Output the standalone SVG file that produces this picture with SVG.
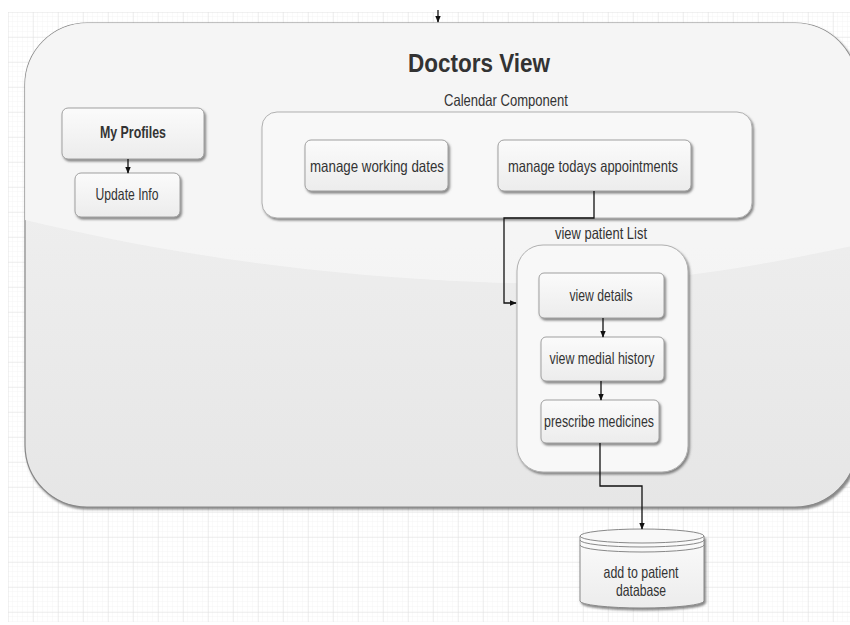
<svg xmlns="http://www.w3.org/2000/svg" width="850" height="625" viewBox="0 0 850 625">
<style>
text{font-family:"Liberation Sans",Arial,sans-serif;fill:#333;}
.t{font-size:16.5px;text-anchor:middle;}
.box{fill:url(#boxg);stroke:#a0a0a0;stroke-width:1;filter:url(#sh);}
.cont{fill:#f8f8f8;stroke:#b0b0b0;stroke-width:1;filter:url(#sh);}
.ln{fill:none;stroke:#111;stroke-width:1.3;}
</style>
<defs>
<pattern id="minor" width="5" height="5" patternUnits="userSpaceOnUse" x="8" y="12">
<path d="M5 0V5M0 5H5" fill="none" stroke="#f0f0f0" stroke-width="0.6"/>
</pattern>
<pattern id="major" width="25" height="25" patternUnits="userSpaceOnUse" x="8" y="12">
<path d="M0 0V25M0 0H25" fill="none" stroke="#dcdcdc" stroke-width="0.8"/>
</pattern>
<linearGradient id="boxg" x1="0" y1="0" x2="0" y2="1">
<stop offset="0" stop-color="#fbfbfb"/><stop offset="1" stop-color="#ececec"/>
</linearGradient>
<linearGradient id="maing" x1="0" y1="0" x2="0" y2="1">
<stop offset="0" stop-color="#f3f3f3"/><stop offset="1" stop-color="#e6e6e6"/>
</linearGradient>
<clipPath id="mainclip"><rect x="25" y="23" width="832" height="484" rx="62"/></clipPath>
<filter id="sh" x="-10%" y="-10%" width="130%" height="130%">
<feDropShadow dx="1.5" dy="2" stdDeviation="0.8" flood-color="#555" flood-opacity="0.7"/>
</filter>
<marker id="ah" viewBox="0 0 10 10" refX="9" refY="5" markerWidth="7" markerHeight="7" orient="auto" markerUnits="userSpaceOnUse">
<path d="M0 1L10 5L0 9Z" fill="#111"/>
</marker>
</defs>
<rect width="850" height="625" fill="#fff"/>
<rect x="8" y="12" width="842" height="610" fill="url(#minor)"/>
<rect x="8" y="12" width="842" height="610" fill="url(#major)"/>

<g id="doctors-view">
<rect x="25" y="23" width="832" height="484" rx="62" fill="url(#maing)" stroke="#888" stroke-width="1.2" filter="url(#sh)"/>
<path clip-path="url(#mainclip)" d="M25 23H857V245C760 265 650 290 480 282C300 275 150 250 25 220Z" fill="#f5f5f5" opacity="0.9"/>
<text x="479" y="72" font-size="25" font-weight="bold" text-anchor="middle" textLength="142" lengthAdjust="spacingAndGlyphs" fill="#2a2a2a">Doctors View</text>
</g>

<g id="calendar-component">
<rect class="cont" x="262" y="112" width="490" height="106" rx="15"/>
<text class="t" x="506" y="106" textLength="124" lengthAdjust="spacingAndGlyphs">Calendar Component</text>
</g>

<g id="my-profiles">
<rect class="box" x="62" y="108" width="142" height="51" rx="6"/>
<text class="t" x="133" y="138" font-weight="bold" textLength="66" lengthAdjust="spacingAndGlyphs">My Profiles</text>
</g>
<g id="update-info">
<rect class="box" x="75" y="173" width="105" height="44" rx="6"/>
<text class="t" x="127" y="200" textLength="63" lengthAdjust="spacingAndGlyphs">Update Info</text>
</g>

<g id="manage-working-dates">
<rect class="box" x="305" y="140" width="143" height="51" rx="6"/>
<text class="t" x="377" y="171.5" textLength="134" lengthAdjust="spacingAndGlyphs">manage working dates</text>
</g>
<g id="manage-todays-appointments">
<rect class="box" x="498" y="140" width="193" height="51" rx="6"/>
<text class="t" x="593" y="171.5" textLength="170" lengthAdjust="spacingAndGlyphs">manage todays appointments</text>
</g>

<g id="view-patient-list">
<rect class="cont" x="517" y="245" width="171" height="227" rx="26"/>
<text class="t" x="601" y="239" textLength="92" lengthAdjust="spacingAndGlyphs">view patient List</text>
</g>
<g id="view-details">
<rect class="box" x="539" y="273" width="125" height="45" rx="5"/>
<text class="t" x="601" y="301" textLength="63" lengthAdjust="spacingAndGlyphs">view details</text>
</g>
<g id="view-medial-history">
<rect class="box" x="541" y="337" width="123" height="44" rx="5"/>
<text class="t" x="602" y="364" textLength="105" lengthAdjust="spacingAndGlyphs">view medial history</text>
</g>
<g id="prescribe-medicines">
<rect class="box" x="541" y="400" width="118" height="43" rx="5"/>
<text class="t" x="599" y="427" textLength="110" lengthAdjust="spacingAndGlyphs">prescribe medicines</text>
</g>

<g id="patient-database">
<path d="M580 536V601A62 7 0 0 0 704 601V536" fill="url(#boxg)" stroke="#888" stroke-width="1" filter="url(#sh)"/>
<ellipse cx="642" cy="536" rx="62" ry="7" fill="#f8f8f8" stroke="#888" stroke-width="1"/>
<path d="M580 540A62 7 0 0 0 704 540M580 545A62 7 0 0 0 704 545" fill="none" stroke="#888" stroke-width="1"/>
<text class="t" x="641" y="578" textLength="75" lengthAdjust="spacingAndGlyphs">add to patient</text>
<text class="t" x="641" y="596" textLength="50" lengthAdjust="spacingAndGlyphs">database</text>
</g>

<g id="connectors">
<path class="ln" d="M438 10V22" marker-end="url(#ah)"/>
<path class="ln" d="M128 159V173" marker-end="url(#ah)"/>
<path class="ln" d="M594 191V218H504V303H516" marker-end="url(#ah)"/>
<path class="ln" d="M603 318V337" marker-end="url(#ah)"/>
<path class="ln" d="M601 381V400" marker-end="url(#ah)"/>
<path class="ln" d="M600 443V486H642V529" marker-end="url(#ah)"/>
</g>
</svg>
